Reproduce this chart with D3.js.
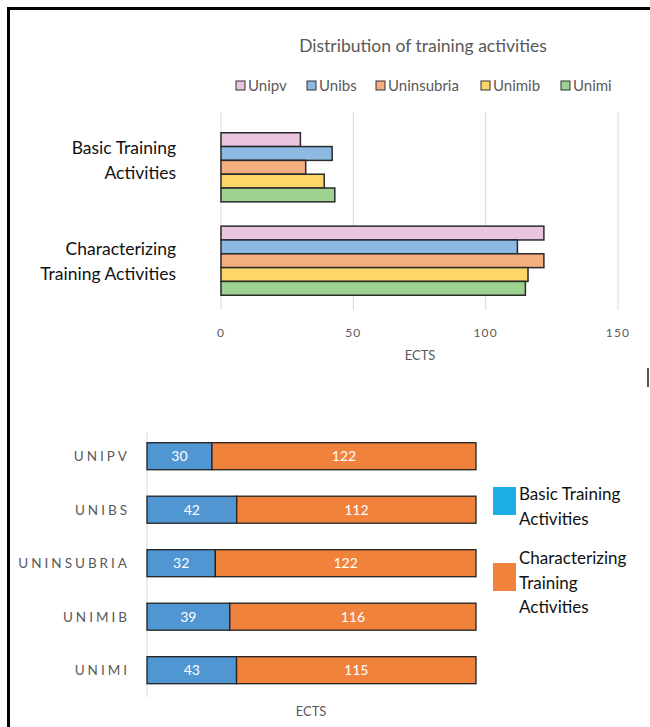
<!DOCTYPE html>
<html>
<head>
<meta charset="utf-8">
<script src="https://cdn.jsdelivr.net/npm/d3@7"></script>
<style>
  body { margin: 0; background: #fff; }
  svg { display: block; font-family: Lato, 'Open Sans', sans-serif; }
</style>
</head>
<body>
<div id="graph"></div>
<script>
'use strict';

// data
const activities = ['Basic Training Activities', 'Characterizing Training Activities'];
const activityLines = [['Basic Training', 'Activities'], ['Characterizing', 'Training Activities']];
const universities = ['Unipv', 'Unibs', 'Uninsubria', 'Unimib', 'Unimi'];
const basicValues = [30, 42, 32, 39, 43];
const characterizingValues = [122, 112, 122, 116, 115];
const xTicks = [0, 50, 100, 150];
const uniColors = ['#E8C4DE', '#8DBAE2', '#F5AE80', '#FDD568', '#9ED290'];
const legendLines = [['Basic Training', 'Activities'], ['Characterizing', 'Training', 'Activities']];

const measurements = { width: 650, height: 727 };

const svg = d3.select('#graph')
    .append('svg')
    .attr('width', measurements.width)
    .attr('height', measurements.height);

// frame
svg.append('rect').attr('x', 7).attr('y', 7).attr('width', 643).attr('height', 3).attr('fill', '#000');
svg.append('rect').attr('x', 7).attr('y', 7).attr('width', 3).attr('height', 720).attr('fill', '#000');
svg.append('rect').attr('x', 647).attr('y', 368).attr('width', 2).attr('height', 19).attr('fill', '#555');

// ---------- top chart: grouped bars ----------
const x1 = d3.scaleLinear().domain([0, 150]).range([221, 618]);
const y1 = d3.scaleBand().domain(activities).range([115, 313]).paddingInner(0.26).paddingOuter(0.19);
const ySub = d3.scaleBand().domain(universities).range([0, y1.bandwidth()]);

svg.append('text')
    .attr('x', 423).attr('y', 52)
    .attr('text-anchor', 'middle')
    .attr('font-size', 17.5)
    .attr('fill', '#595959')
    .text('Distribution of training activities');

// legend
const legendX = [236, 307, 376, 481, 561];
universities.forEach((u, i) => {
    svg.append('rect')
        .attr('x', legendX[i]).attr('y', 81)
        .attr('width', 9).attr('height', 9)
        .attr('fill', uniColors[i]).attr('stroke', '#333').attr('stroke-width', 1);
    svg.append('text')
        .attr('x', legendX[i] + 12).attr('y', 91)
        .attr('font-size', 15).attr('fill', '#595959')
        .text(u);
});

// gridlines
svg.append('g').selectAll('line')
    .data(xTicks)
    .enter().append('line')
    .attr('x1', d => x1(d)).attr('x2', d => x1(d))
    .attr('y1', 112).attr('y2', 310)
    .attr('stroke', '#d9d9d9').attr('stroke-width', 1);

svg.append('g').selectAll('text')
    .data(xTicks)
    .enter().append('text')
    .attr('x', d => x1(d)).attr('y', 337)
    .attr('text-anchor', 'middle')
    .attr('font-size', 12).attr('letter-spacing', 1.2)
    .attr('fill', '#595959')
    .text(d => d);

svg.append('text')
    .attr('x', 420).attr('y', 360)
    .attr('text-anchor', 'middle')
    .attr('font-size', 13).attr('fill', '#595959')
    .text('ECTS');

const series = [basicValues, characterizingValues];
const labelShift = [-7, 1];
activities.forEach((a, ai) => {
    const g = svg.append('g').attr('transform', 'translate(0,' + y1(a) + ')');
    g.selectAll('rect')
        .data(universities)
        .enter().append('rect')
        .attr('x', x1(0))
        .attr('y', d => ySub(d))
        .attr('width', (d, i) => x1(series[ai][i]) - x1(0))
        .attr('height', ySub.bandwidth())
        .attr('fill', (d, i) => uniColors[i])
        .attr('stroke', '#2a2a2a').attr('stroke-width', 1.5);

    const lines = activityLines[ai];
    const cy = y1(a) + y1.bandwidth() / 2 + labelShift[ai];
    lines.forEach((l, li) => {
        svg.append('text')
            .attr('x', 176)
            .attr('y', cy + (li - (lines.length - 1) / 2) * 24.5 + 6)
            .attr('text-anchor', 'end')
            .attr('font-size', 17.5).attr('fill', '#111')
            .text(l);
    });
});

// ---------- bottom chart: 100% stacked bars ----------
const unisUpper = universities.map(u => u.toUpperCase());
const x2 = d3.scaleLinear().domain([0, 1]).range([147, 476]);
const y2 = d3.scaleBand().domain(unisUpper).range([432, 694.4]).paddingInner(0.495).paddingOuter(0.2);

svg.append('line')
    .attr('x1', 147).attr('x2', 147).attr('y1', 432).attr('y2', 697)
    .attr('stroke', '#d9d9d9').attr('stroke-width', 1);

const stackData = unisUpper.map((u, i) => ({
    name: u,
    basic: basicValues[i],
    charact: characterizingValues[i]
}));
const stacked = d3.stack().keys(['basic', 'charact']).offset(d3.stackOffsetExpand)(stackData);
const stackColors = ['#4F96D2', '#F0823C'];

stacked.forEach((layer, li) => {
    const g = svg.append('g');
    g.selectAll('rect')
        .data(layer)
        .enter().append('rect')
        .attr('x', d => x2(d[0]))
        .attr('y', d => y2(d.data.name))
        .attr('width', d => x2(d[1]) - x2(d[0]))
        .attr('height', y2.bandwidth())
        .attr('fill', stackColors[li])
        .attr('stroke', '#222').attr('stroke-width', 1.3);
    g.selectAll('text')
        .data(layer)
        .enter().append('text')
        .attr('x', d => (x2(d[0]) + x2(d[1])) / 2)
        .attr('y', d => y2(d.data.name) + y2.bandwidth() / 2 + 5)
        .attr('text-anchor', 'middle')
        .attr('font-size', 14).attr('fill', '#fff')
        .text(d => d.data[layer.key]);
});

svg.append('g').selectAll('text')
    .data(unisUpper)
    .enter().append('text')
    .attr('x', 130)
    .attr('y', d => y2(d) + y2.bandwidth() / 2 + 5)
    .attr('text-anchor', 'end')
    .attr('font-size', 13.5).attr('letter-spacing', 3)
    .attr('fill', '#595959')
    .text(d => d);

svg.append('text')
    .attr('x', 311).attr('y', 716)
    .attr('text-anchor', 'middle')
    .attr('font-size', 13).attr('fill', '#595959')
    .text('ECTS');

// legend bottom
const legColors = ['#1BAEE4', '#F0823C'];
const legSwatchY = [487, 563];
const legTextY = [500, 564];
legendLines.forEach((lines, i) => {
    svg.append('rect')
        .attr('x', 493).attr('y', legSwatchY[i])
        .attr('width', 23).attr('height', 28)
        .attr('fill', legColors[i]);
    lines.forEach((l, li) => {
        svg.append('text')
            .attr('x', 519).attr('y', legTextY[i] + li * 24.5)
            .attr('font-size', 17).attr('fill', '#111')
            .text(l);
    });
});
</script>
</body>
</html>
